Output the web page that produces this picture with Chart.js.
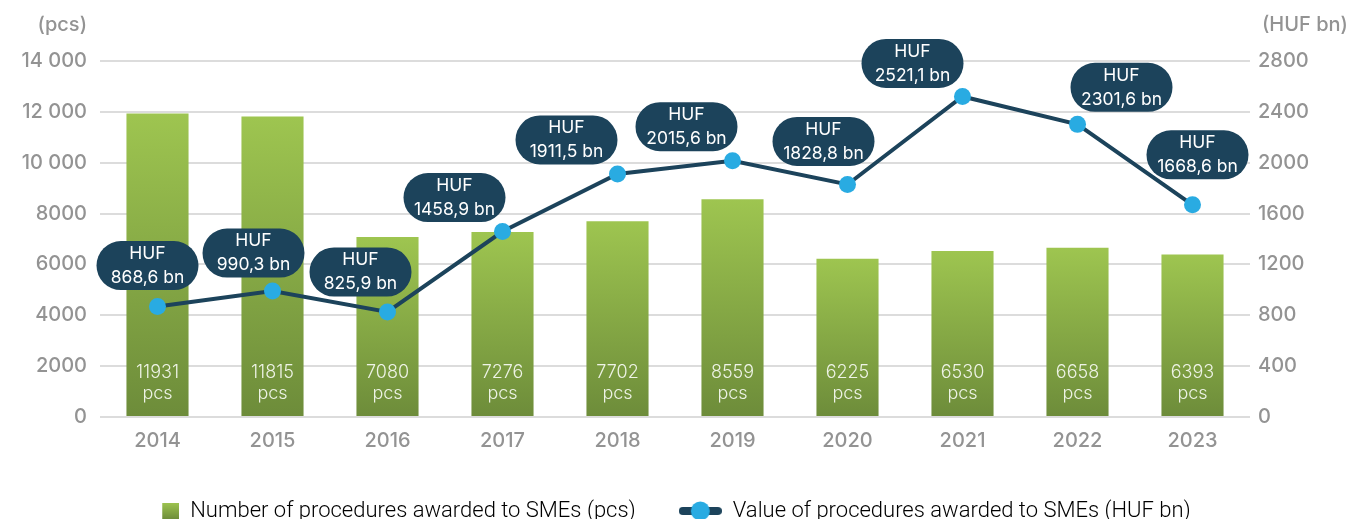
<!DOCTYPE html>
<html>
<head>
<meta charset="utf-8">
<script src="https://cdn.jsdelivr.net/npm/chart.js@4.4.1/dist/chart.umd.min.js"></script>
<style>
  html, body { margin: 0; padding: 0; background: #fff; overflow: hidden; }
  #wrap { width: 1348px; height: 532px; }
</style>
</head>
<body>
<div id="wrap"><canvas id="sme-chart"></canvas></div>
<script>
var years = ['2014', '2015', '2016', '2017', '2018', '2019', '2020', '2021', '2022', '2023'];
var procedureCounts = [11931, 11815, 7080, 7276, 7702, 8559, 6225, 6530, 6658, 6393];
var procedureValues = [868.6, 990.3, 825.9, 1458.9, 1911.5, 2015.6, 1828.8, 2521.1, 2301.6, 1668.6];
var countTicks = ['0', '2000', '4000', '6000', '8000', '10 000', '12 000', '14 000'];
var valueTicks = ['0', '400', '800', '1200', '1600', '2000', '2400', '2800'];
var seriesNames = [
  'Number of procedures awarded to SMEs (pcs)',
  'Value of procedures awarded to SMEs (HUF bn)'
];

// where each value bubble sits relative to its point
var calloutShiftX = [-10, -19, -27, -48, -51, -46, -24, -50, 44, 5];
var calloutShiftY = [-41, -38, -40, -34, -34, -34, -43, -33, -37, -50];

var NAVY = '#1c435b';
var BLUE = '#29abe2';
var GREEN_TOP = '#9ec550';
var GREEN_BOTTOM = '#6d8c3a';
var GREY = '#939393';
var FONT = 'Inter';

function formatHuf (v) {
  return v.toFixed(1).replace('.', ',')
}

function barGradient (context) {
  var chart = context.chart
  if (!chart.chartArea) return GREEN_TOP
  var y = chart.scales.y
  var top = y.getPixelForValue(context.raw)
  var base = y.getPixelForValue(0)
  var g = chart.ctx.createLinearGradient(0, top, 0, base)
  g.addColorStop(0, GREEN_TOP)
  g.addColorStop(1, GREEN_BOTTOM)
  return g
}

// legend swatches, both 43px wide so the shared box width lines up
function makeBarSwatch () {
  var c = document.createElement('canvas')
  c.width = 43; c.height = 17
  var g = c.getContext('2d')
  var gr = g.createLinearGradient(0, 0, 0, 17)
  gr.addColorStop(0, GREEN_TOP)
  gr.addColorStop(1, GREEN_BOTTOM)
  g.fillStyle = gr
  g.fillRect(26, 0, 17, 17)
  return c
}

function makeLineSwatch () {
  var c = document.createElement('canvas')
  c.width = 43; c.height = 20
  var g = c.getContext('2d')
  g.strokeStyle = NAVY
  g.lineWidth = 8
  g.lineCap = 'round'
  g.beginPath(); g.moveTo(4, 10); g.lineTo(39, 10); g.stroke()
  g.fillStyle = BLUE
  g.beginPath(); g.arc(21.5, 10, 9.5, 0, Math.PI * 2); g.fill()
  return c
}

function pill (ctx, x, y, w, h, r) {
  ctx.beginPath()
  ctx.moveTo(x + r, y)
  ctx.lineTo(x + w - r, y)
  ctx.arc(x + w - r, y + r, r, -Math.PI / 2, Math.PI / 2)
  ctx.lineTo(x + r, y + h)
  ctx.arc(x + r, y + r, r, Math.PI / 2, Math.PI * 1.5)
  ctx.closePath()
}

var labelPlugin = {
  id: 'smeLabels',
  afterDatasetsDraw: function (chart) {
    var ctx = chart.ctx
    var yLeft = chart.scales.y
    var base = yLeft.getPixelForValue(0)
    ctx.save()
    ctx.textAlign = 'center'
    ctx.textBaseline = 'middle'

    ctx.font = '300 18px ' + FONT
    ctx.fillStyle = '#eef3e6'
    chart.getDatasetMeta(0).data.forEach(function (bar, i) {
      ctx.fillText(String(procedureCounts[i]), bar.x, base - 44)
      ctx.fillText('pcs', bar.x, base - 23)
    })

    ctx.font = '400 17.5px ' + FONT
    chart.getDatasetMeta(1).data.forEach(function (pt, i) {
      var cx = pt.x + calloutShiftX[i]
      var cy = pt.y + calloutShiftY[i]
      ctx.fillStyle = NAVY
      pill(ctx, cx - 51, cy - 24.5, 102, 49, 24.5)
      ctx.fill()
      ctx.fillStyle = '#ffffff'
      ctx.fillText('HUF', cx, cy - 12)
      ctx.fillText(formatHuf(procedureValues[i]) + ' bn', cx, cy + 12)
    })

    ctx.font = '500 20px ' + FONT
    ctx.fillStyle = GREY
    ctx.textAlign = 'right'
    ctx.fillText('(pcs)', yLeft.right - 13, chart.chartArea.top - 36)
    ctx.textAlign = 'left'
    ctx.fillText('(HUF bn)', chart.scales.y1.left + 12, chart.chartArea.top - 36)
    ctx.restore()
  }
}

var barSwatch = makeBarSwatch()
var lineSwatch = makeLineSwatch()
var tickFont = { family: FONT, size: 20, weight: 500 }

new Chart(document.getElementById('sme-chart').getContext('2d'), {
  type: 'bar',
  data: {
    labels: years,
    datasets: [
      {
        type: 'bar',
        label: seriesNames[0],
        data: procedureCounts,
        yAxisID: 'y',
        backgroundColor: barGradient,
        borderWidth: 0,
        barPercentage: 0.54,
        categoryPercentage: 1,
        order: 2
      },
      {
        type: 'line',
        label: seriesNames[1],
        data: procedureValues,
        yAxisID: 'y1',
        borderColor: NAVY,
        borderWidth: 4,
        pointRadius: 8.5,
        pointBackgroundColor: BLUE,
        pointBorderWidth: 0,
        tension: 0,
        order: 1
      }
    ]
  },
  plugins: [labelPlugin],
  options: {
    responsive: true,
    maintainAspectRatio: false,
    animation: false,
    layout: { padding: { top: 61, left: 0, right: 21, bottom: 0 } },
    plugins: {
      tooltip: { enabled: false },
      legend: {
        position: 'bottom',
        labels: {
          usePointStyle: true,
          pointStyleWidth: 43,
          padding: 43,
          color: '#a2a2a2',
          font: { family: 'Roboto', size: 22, weight: 300 },
          sort: function (a, b) { return a.datasetIndex - b.datasetIndex },
          generateLabels: function () {
            return [
              { text: seriesNames[0], pointStyle: barSwatch, datasetIndex: 0, fillStyle: GREEN_TOP, strokeStyle: 'transparent', lineWidth: 0, hidden: false },
              { text: seriesNames[1], pointStyle: lineSwatch, datasetIndex: 1, fillStyle: BLUE, strokeStyle: 'transparent', lineWidth: 0, hidden: false }
            ]
          }
        }
      }
    },
    scales: {
      x: {
        grid: { display: false, drawTicks: false },
        border: { display: false },
        ticks: { color: GREY, padding: 12, font: tickFont },
        afterFit: function (scale) { scale.height = 40 }
      },
      y: {
        position: 'left',
        min: 0,
        max: 14000,
        ticks: {
          stepSize: 2000,
          padding: 13,
          color: GREY,
          font: tickFont,
          callback: function (v, i) { return countTicks[i] }
        },
        grid: { color: '#dcdcdc', lineWidth: 2, drawTicks: false },
        border: { display: false },
        afterFit: function (scale) { scale.width = 100 }
      },
      y1: {
        position: 'right',
        min: 0,
        max: 2800,
        ticks: {
          stepSize: 400,
          padding: 8,
          color: GREY,
          font: tickFont,
          callback: function (v, i) { return valueTicks[i] }
        },
        grid: { display: false, drawTicks: false },
        border: { display: false },
        afterFit: function (scale) { scale.width = 77 }
      }
    }
  }
});
</script>
</body>
</html>
